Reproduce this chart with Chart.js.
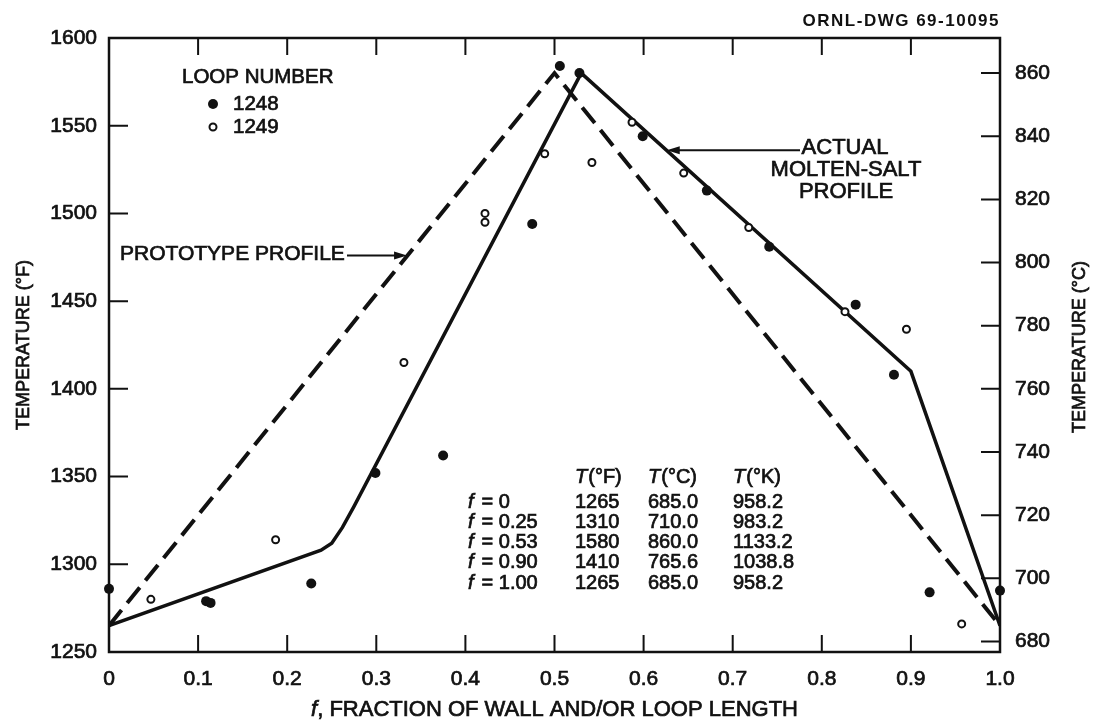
<!DOCTYPE html>
<html>
<head>
<title>Wall Temperature Profile - Loops 1248 / 1249</title>
<script src="https://cdn.jsdelivr.net/npm/chart.js"></script>
<style>
  html, body { margin: 0; padding: 0; background: #fff; }
  #wrap { width: 1093px; height: 723px; position: relative; }
</style>
</head>
<body>
<div id="wrap"><canvas id="profileChart"></canvas></div>
<script>
// Measured temperatures (°F) against fraction of loop length
const loop1248F = [0, 0.109, 0.114, 0.227, 0.299, 0.375, 0.475, 0.506, 0.528, 0.599, 0.671, 0.741, 0.838, 0.881, 0.921, 1.0];
const loop1248T = [1286, 1279, 1278, 1289, 1352, 1362, 1494, 1584, 1580, 1544, 1513, 1481, 1448, 1408, 1284, 1285];
const loop1249F = [0.047, 0.187, 0.331, 0.422, 0.422, 0.489, 0.542, 0.587, 0.645, 0.718, 0.826, 0.895, 0.957];
const loop1249T = [1280, 1314, 1415, 1500, 1495, 1534, 1529, 1552, 1523, 1492, 1444, 1434, 1266];

// Design profiles
const prototypeF = [0, 0.5, 1.0];
const prototypeT = [1265, 1580, 1265];
const actualF = [0, 0.238, 0.25, 0.262, 0.275, 0.53, 0.90, 1.00];
const actualT = [1265, 1308, 1312, 1321, 1333, 1580, 1410, 1265];

// Profile break points table
const tableF  = ['0', '0.25', '0.53', '0.90', '1.00'];
const tableTF = ['1265', '1310', '1580', '1410', '1265'];
const tableTC = ['685.0', '710.0', '860.0', '765.6', '685.0'];
const tableTK = ['958.2', '983.2', '1133.2', '1038.8', '958.2'];

// Axis ticks
const fTicks = [0, 0.1, 0.2, 0.3, 0.4, 0.5, 0.6, 0.7, 0.8, 0.9, 1.0];
const tempFTicks = [1250, 1300, 1350, 1400, 1450, 1500, 1550, 1600];
const tempCTicks = [680, 700, 720, 740, 760, 780, 800, 820, 840, 860];

const FONT = "'Liberation Sans', Arial, sans-serif";
const INK = '#111';
const STROKE = 0.7;   // thickens the lettering a little
const toC = f => (f - 32) / 1.8;
const pairs = (xs, ys) => xs.map((x, i) => ({ x: x, y: ys[i] }));

Chart.defaults.font.family = FONT;
Chart.defaults.color = INK;

function text(ctx, s, x, y) {
    ctx.lineWidth = STROKE;
    ctx.strokeText(s, x, y);
    ctx.fillText(s, x, y);
}

function arrow(ctx, x1, y1, x2, y2) {
    const ang = Math.atan2(y2 - y1, x2 - x1);
    const c = Math.cos(ang), s = Math.sin(ang);
    ctx.beginPath();
    ctx.moveTo(x1, y1);
    ctx.lineTo(x2 - 10 * c, y2 - 10 * s);
    ctx.lineWidth = 2;
    ctx.stroke();
    ctx.beginPath();
    ctx.moveTo(x2, y2);
    ctx.lineTo(x2 - 13 * c + 4 * s, y2 - 13 * s - 4 * c);
    ctx.lineTo(x2 - 13 * c - 4 * s, y2 - 13 * s + 4 * c);
    ctx.closePath();
    ctx.fill();
}

// italic lead letter followed by upright text
function mixedText(ctx, lead, rest, x, y, size, gap) {
    ctx.textAlign = 'left';
    ctx.font = 'italic ' + size + 'px ' + FONT;
    text(ctx, lead, x, y);
    const w = ctx.measureText(lead).width;
    ctx.font = size + 'px ' + FONT;
    text(ctx, rest, x + w + gap, y);
}

const framePlugin = {
    id: 'frame',
    beforeDatasetsDraw(chart) {
        const { ctx, chartArea: a, scales } = chart;
        ctx.save();
        ctx.strokeStyle = INK;
        ctx.lineWidth = 2.5;
        ctx.strokeRect(a.left, a.top, a.right - a.left, a.bottom - a.top);
        ctx.lineWidth = 2;
        ctx.beginPath();
        fTicks.slice(1, -1).forEach(v => {
            const px = scales.x.getPixelForValue(v);
            ctx.moveTo(px, a.bottom); ctx.lineTo(px, a.bottom - 17);
            ctx.moveTo(px, a.top); ctx.lineTo(px, a.top + 17);
        });
        tempFTicks.slice(1, -1).forEach(v => {
            const py = scales.y.getPixelForValue(v);
            ctx.moveTo(a.left, py); ctx.lineTo(a.left + 19, py);
        });
        tempCTicks.forEach(v => {
            const py = scales.yC.getPixelForValue(v);
            ctx.moveTo(a.right, py); ctx.lineTo(a.right - 19, py);
        });
        ctx.stroke();
        ctx.restore();
    },
    afterDatasetsDraw(chart) {
        const { ctx, chartArea: a, scales } = chart;
        const sx = v => scales.x.getPixelForValue(v);
        const sy = v => scales.y.getPixelForValue(v);
        ctx.save();
        ctx.fillStyle = INK;
        ctx.strokeStyle = INK;
        ctx.textBaseline = 'middle';

        // drawing number
        ctx.font = 'bold 17px ' + FONT;
        ctx.textAlign = 'right';
        if ('letterSpacing' in ctx) ctx.letterSpacing = '1.5px';
        ctx.fillText('ORNL-DWG 69-10095', a.right, 21);
        if ('letterSpacing' in ctx) ctx.letterSpacing = '0px';

        // axis titles
        ctx.font = '18px ' + FONT;
        ctx.textAlign = 'center';
        ctx.save();
        ctx.translate(24, (a.top + a.bottom) / 2);
        ctx.rotate(-Math.PI / 2);
        text(ctx, 'TEMPERATURE (°F)', 0, 0);
        ctx.restore();
        ctx.save();
        ctx.translate(1080, (a.top + a.bottom) / 2 + 2);
        ctx.rotate(-Math.PI / 2);
        text(ctx, 'TEMPERATURE (°C)', 0, 0);
        ctx.restore();

        ctx.font = 'italic 22px ' + FONT;
        const lw = ctx.measureText('f').width;
        ctx.font = '22px ' + FONT;
        const rest = ', FRACTION OF WALL AND/OR LOOP LENGTH';
        const tw = lw + ctx.measureText(rest).width;
        mixedText(ctx, 'f', rest, (a.left + a.right) / 2 - tw / 2, 710, 22, 0);

        // legend
        ctx.font = '20.5px ' + FONT;
        ctx.textAlign = 'left';
        text(ctx, 'LOOP NUMBER', a.left + 73, 77);
        ctx.beginPath(); ctx.arc(a.left + 104, 104, 5, 0, Math.PI * 2); ctx.fill();
        text(ctx, '1248', a.left + 124, 104);
        ctx.beginPath(); ctx.arc(a.left + 104, 127, 3.5, 0, Math.PI * 2);
        ctx.lineWidth = 2; ctx.stroke();
        text(ctx, '1249', a.left + 124, 127);

        // profile labels
        ctx.font = '21px ' + FONT;
        text(ctx, 'PROTOTYPE PROFILE', a.left + 11, 254);
        arrow(ctx, a.left + 238, sy(1476), sx(0.3345), sy(1476));

        ctx.font = '22px ' + FONT;
        ctx.textAlign = 'center';
        text(ctx, 'ACTUAL', 845, 148);
        text(ctx, 'MOLTEN-SALT', 846, 170);
        text(ctx, 'PROFILE', 846, 192);
        arrow(ctx, 800, sy(1536), sx(0.626), sy(1536));

        // break point table
        const cols = [575, 648, 733];
        const heads = ['(°F)', '(°C)', '(°K)'];
        heads.forEach((h, i) => mixedText(ctx, 'T', h, cols[i], 477, 20, 1));
        const rowsY = [502, 522, 542, 562, 583];
        tableF.forEach((f, i) => {
            mixedText(ctx, 'f', '= ' + f, 468, rowsY[i], 20, 8);
            ctx.font = '20px ' + FONT;
            text(ctx, tableTF[i], cols[0], rowsY[i]);
            text(ctx, tableTC[i], cols[1], rowsY[i]);
            text(ctx, tableTK[i], cols[2], rowsY[i]);
        });
        ctx.restore();
    }
};

const fixTicks = list => scale => { scale.ticks = list.map(v => ({ value: v })); };
const tickStyle = { font: { size: 21 }, textStrokeColor: INK, textStrokeWidth: STROKE };

new Chart(document.getElementById('profileChart'), {
    type: 'scatter',
    data: {
        datasets: [
            {
                label: '1248',
                data: pairs(loop1248F, loop1248T),
                pointRadius: 5,
                pointBackgroundColor: INK,
                pointBorderWidth: 0,
                clip: false
            },
            {
                label: '1249',
                data: pairs(loop1249F, loop1249T),
                pointRadius: 3.5,
                pointBackgroundColor: '#fff',
                pointBorderColor: INK,
                pointBorderWidth: 2,
                clip: false
            },
            {
                label: 'Actual molten-salt profile',
                data: pairs(actualF, actualT),
                showLine: true,
                borderColor: INK,
                borderWidth: 3.5,
                pointRadius: 0
            },
            {
                label: 'Prototype profile',
                data: pairs(prototypeF, prototypeT),
                showLine: true,
                borderColor: INK,
                borderWidth: 4,
                borderDash: [20, 9],
                pointRadius: 0
            }
        ]
    },
    options: {
        responsive: true,
        maintainAspectRatio: false,
        animation: false,
        events: [],
        layout: { padding: { top: 38, left: 0, right: 0, bottom: 0 } },
        plugins: { legend: { display: false }, tooltip: { enabled: false } },
        scales: {
            x: {
                type: 'linear', min: 0, max: 1,
                afterBuildTicks: fixTicks(fTicks),
                afterFit: s => { s.height = 71; },
                grid: { display: false, drawTicks: false },
                border: { display: false },
                ticks: Object.assign({
                    padding: 15,
                    maxRotation: 0,
                    callback: v => v === 0 ? '0' : v.toFixed(1)
                }, tickStyle)
            },
            y: {
                position: 'left', min: 1250, max: 1600,
                afterBuildTicks: fixTicks(tempFTicks),
                afterFit: s => { s.width = 109; },
                grid: { display: false, drawTicks: false },
                border: { display: false },
                ticks: Object.assign({ padding: 12, callback: v => String(v) }, tickStyle)
            },
            yC: {
                position: 'right', min: toC(1250), max: toC(1600),
                afterBuildTicks: fixTicks(tempCTicks),
                afterFit: s => { s.width = 93; },
                grid: { display: false, drawTicks: false },
                border: { display: false },
                ticks: Object.assign({ padding: 15, callback: v => String(v) }, tickStyle)
            }
        }
    },
    plugins: [framePlugin]
});
</script>
</body>
</html>
